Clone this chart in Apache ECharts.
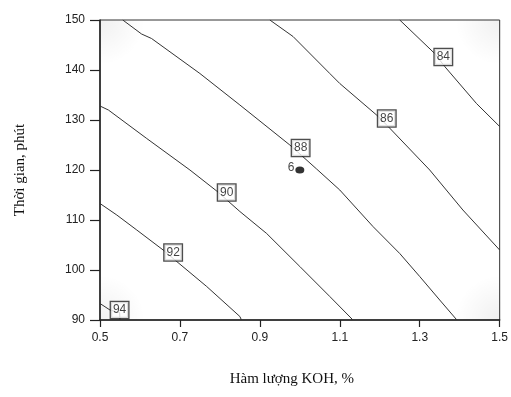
<!DOCTYPE html>
<html>
<head>
<meta charset="utf-8">
<script src="https://cdn.jsdelivr.net/npm/echarts@6/dist/echarts.min.js"></script>
<style>
html,body{margin:0;padding:0;background:#fff;}
#c{width:511px;height:397px;}
</style>
</head>
<body>
<div id="c"></div>
<script>
const xTicks = [0.5, 0.7, 0.9, 1.1, 1.3, 1.5];
const yTicks = [90, 100, 110, 120, 130, 140, 150];
const levels = [84, 86, 88, 90, 92, 94];

const contour84 = [[1.25,150],[1.3375,143.3],[1.3625,140.7],[1.442,133.3],[1.5,128.7]];
const contour86 = [[0.925,150],[0.983,146.7],[1.075,139.3],[1.1,137.3],[1.192,131],[1.221,128.7],[1.325,120],[1.408,112],[1.5,104]];
const contour88 = [[0.557,150],[0.604,147.2],[0.629,146.3],[0.75,139.3],[0.85,133],[0.975,125],[1.042,120.2],[1.1,116],[1.183,108.7],[1.25,103.3],[1.3,98.7],[1.35,94],[1.393,90]];
const contour90 = [[0.5,132.8],[0.521,132],[0.617,126.3],[0.725,120],[0.792,115.8],[0.85,111.7],[0.917,107.3],[1.0,100.7],[1.075,94.7],[1.133,90]];
const contour92 = [[0.5,113.3],[0.542,111],[0.592,108],[0.658,104],[0.6875,102],[0.767,96.7],[0.85,90.7],[0.854,90]];
const contour94 = [[0.5,93.3],[0.525,92],[0.549,91.5],[0.55,90]];

const labelPos = [[1.359,142.6],[1.2175,130.3],[1.002,124.4],[0.817,115.5],[0.683,103.5],[0.549,92]];
const designPoint = [1.0, 120];
const designLabel = '6';

const contours = [contour84, contour86, contour88, contour90, contour92, contour94];

const chart = echarts.init(document.getElementById('c'), null, {renderer:'canvas'});

const series = contours.map((d, i) => ({
  type: 'line',
  name: String(levels[i]),
  data: d,
  showSymbol: false,
  smooth: false,
  lineStyle: {color: '#333', width: 1},
  z: 2,
  silent: true
}));

series.push({
  type: 'scatter',
  data: labelPos.map((p, i) => ({value: p, name: String(levels[i])})),
  symbolSize: 1,
  itemStyle: {color: 'rgba(0,0,0,0)'},
  label: {
    show: true,
    position: 'inside',
    formatter: p => p.name,
    fontFamily: 'Liberation Sans, Arial, sans-serif',
    fontSize: 12,
    color: '#111',
    backgroundColor: '#fff',
    borderColor: '#222',
    borderWidth: 1.3,
    padding: [2, 2, 1, 2],
    lineHeight: 13
  },
  z: 5,
  silent: true
});

series.push({
  type: 'scatter',
  data: [{value: designPoint, name: designLabel}],
  symbol: 'circle',
  symbolSize: [9, 7],
  itemStyle: {color: '#000'},
  label: {
    show: true,
    position: 'left',
    distance: 1,
    offset: [0, -2],
    formatter: p => p.name,
    fontFamily: 'Liberation Sans, Arial, sans-serif',
    fontSize: 12,
    color: '#111'
  },
  z: 6,
  silent: true
});

function corner(cx, cy) {
  return {
    type: 'rect', z: -1, silent: true,
    shape: {x: cx - 45, y: cy - 45, width: 90, height: 90},
    style: {fill: new echarts.graphic.RadialGradient(0.5, 0.5, 0.5, [
      {offset: 0, color: 'rgba(0,0,0,0.06)'},
      {offset: 1, color: 'rgba(0,0,0,0)'}
    ])}
  };
}

chart.setOption({
  animation: false,
  backgroundColor: '#fff',
  graphic: {elements: [
    {type: 'group', silent: true, children: [
      {type: 'group', clipPath: {type: 'rect', shape: {x: 100, y: 20, width: 400.5, height: 300}}, children: [
        corner(100, 20), corner(100, 320), corner(500, 20), corner(500, 320)
      ]}
    ]}
  ]},
  grid: {left: 100, top: 20, right: 10.5, bottom: 77, show: true, borderColor: '#333', borderWidth: 1, backgroundColor: 'transparent'},
  xAxis: {
    type: 'value',
    min: 0.5, max: 1.5, interval: 0.2,
    name: 'Hàm lượng KOH, %',
    nameLocation: 'middle',
    nameGap: 52,
    nameTextStyle: {fontFamily: 'Liberation Serif, Times New Roman, serif', fontSize: 15, color: '#111', padding: [0, 16, 0, 0]},
    axisLine: {show: true, lineStyle: {color: '#222', width: 1.5}},
    axisTick: {show: true, inside: false, length: 7, lineStyle: {color: '#222', width: 1.2}},
    axisLabel: {inside: false, fontFamily: 'Liberation Sans, Arial, sans-serif', fontSize: 12, color: '#222', margin: 12, formatter: v => xTicks.includes(Math.round(v*10)/10) ? v.toFixed(1) : ''},
    splitLine: {show: false}
  },
  yAxis: {
    type: 'value',
    min: 90, max: 150, interval: 10,
    name: 'Thời gian, phút',
    nameLocation: 'middle',
    nameGap: 72,
    nameTextStyle: {fontFamily: 'Liberation Serif, Times New Roman, serif', fontSize: 15, color: '#111'},
    axisLine: {show: true, lineStyle: {color: '#222', width: 1.5}},
    axisTick: {show: true, inside: false, length: 10, lineStyle: {color: '#222', width: 1.2}},
    axisLabel: {inside: false, fontFamily: 'Liberation Sans, Arial, sans-serif', fontSize: 12, color: '#222', margin: 15, formatter: v => yTicks.includes(v) ? String(v) : ''},
    splitLine: {show: false}
  },
  series: series
});
</script>
</body>
</html>
